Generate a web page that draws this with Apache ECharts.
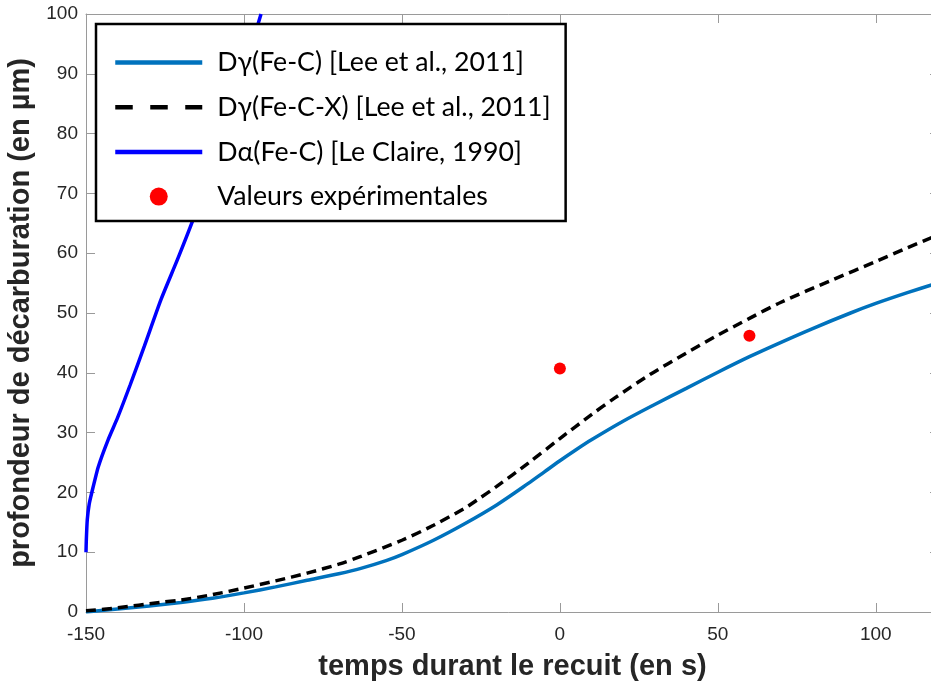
<!DOCTYPE html>
<html>
<head>
<meta charset="utf-8">
<style>
  html, body { margin: 0; padding: 0; background: #ffffff; }
  #chart { width: 931px; height: 687px; }
</style>
<script src="https://cdn.jsdelivr.net/npm/echarts@6/dist/echarts.min.js"></script>
</head>
<body>
<div id="chart"></div>
<script>
// Annealing time (s) and decarburisation depth (µm)
const gammaFeCTimes = [-150, -140, -130, -120, -110, -100, -90, -80, -70, -63, -55, -50, -40, -30, -20, -10, -5, 0, 5, 10, 20, 30, 40, 50, 60, 70, 80, 92, 100, 110, 120];
const gammaFeCDepth = [0, 0.5, 1.0, 1.6, 2.3, 3.2, 4.2, 5.3, 6.4, 7.3, 8.6, 9.6, 12.0, 14.8, 17.9, 21.5, 23.4, 25.3, 27.1, 28.8, 31.9, 34.7, 37.4, 40.1, 42.7, 45.1, 47.4, 50.0, 51.6, 53.4, 55.1];

const gammaFeCXTimes = [-150, -140, -126.6, -120, -110, -100, -90, -80, -70, -63, -50, -40, -30, -26.3, -20, -10, 0, 10, 17.4, 28.5, 40, 50, 60, 70, 86.5, 100, 110, 120];
const gammaFeCXDepth = [0.2, 0.7, 1.6, 2.0, 2.9, 4.0, 5.2, 6.5, 8.0, 9.3, 12.0, 14.5, 17.4, 18.7, 21.0, 24.9, 29.0, 33.0, 35.8, 39.7, 43.3, 46.3, 49.1, 51.8, 55.6, 58.6, 60.9, 63.1];

const alphaFeCTimes = [-150, -149.9, -149.6, -149, -148.2, -146.1, -143, -140, -136, -131.5, -126.3, -121, -116.1, -110, -105, -100, -94.6];
const alphaFeCDepth = [10, 12, 15.4, 18, 19.9, 24.3, 28.8, 32.5, 38, 44.5, 52.2, 59, 65.6, 74.5, 82, 90.5, 100];

const experimentTimes = [0, 60];
const experimentDepth = [40.7, 46.2];

const xTicks = [-150, -100, -50, 0, 50, 100];

const seriesNames = [
  'Dγ(Fe-C) [Lee et al., 2011]',
  'Dγ(Fe-C-X) [Lee et al., 2011]',
  'Dα(Fe-C) [Le Claire, 1990]',
  'Valeurs expérimentales'
];

const pairs = (xs, ys) => xs.map((x, i) => [x, ys[i]]);

const axisColor = '#9a9a9a';
const labelColor = '#262626';
const tickFont = 'Liberation Sans, Arial, sans-serif';

const chart = echarts.init(document.getElementById('chart'), null, { renderer: 'canvas' });

// Box axes (top and right) carrying only the line and inward ticks
const boxAxis = (pos) => ({
  position: pos,
  axisLine: { show: true, onZero: false, lineStyle: { color: axisColor, width: 1 } },
  axisTick: { show: true, inside: true, length: 9, lineStyle: { color: axisColor } },
  axisLabel: { show: false },
  splitLine: { show: false }
});

// Legend line samples without the centre marker
const noMarker = { color: 'rgba(0,0,0,0)', borderWidth: 0 };

chart.setOption({
  animation: false,
  backgroundColor: '#ffffff',
  grid: { left: 86, top: 14, right: -8, bottom: 75, outerBoundsMode: 'none', containLabel: false },
  xAxis: [
    {
      type: 'value', min: -150, max: 120, interval: 50, position: 'bottom',
      name: 'temps durant le recuit (en s)', nameLocation: 'middle', nameGap: 40,
      nameTextStyle: { fontFamily: tickFont, fontWeight: 'bold', fontSize: 29, color: labelColor },
      axisLine: { show: true, onZero: false, lineStyle: { color: axisColor, width: 1 } },
      axisTick: { show: true, inside: true, length: 9, lineStyle: { color: axisColor } },
      axisLabel: {
        margin: 13, fontFamily: tickFont, fontSize: 19, color: labelColor,
        formatter: v => (xTicks.indexOf(v) >= 0 ? String(v) : '')
      },
      splitLine: { show: false }
    },
    Object.assign({ type: 'value', min: -150, max: 120, interval: 50 }, boxAxis('top'))
  ],
  yAxis: [
    {
      type: 'value', min: 0, max: 100, interval: 10, position: 'left',
      name: 'profondeur de décarburation (en µm)', nameLocation: 'middle', nameGap: 44,
      nameTextStyle: { fontFamily: tickFont, fontWeight: 'bold', fontSize: 29, color: labelColor },
      axisLine: { show: true, onZero: false, lineStyle: { color: axisColor, width: 1 } },
      axisTick: { show: true, inside: true, length: 9, lineStyle: { color: axisColor } },
      axisLabel: { margin: 8, fontFamily: tickFont, fontSize: 19, color: labelColor },
      splitLine: { show: false }
    },
    Object.assign({ type: 'value', min: 0, max: 100, interval: 10 }, boxAxis('right'))
  ],
  legend: {
    left: 96, top: 24, orient: 'vertical',
    backgroundColor: '#ffffff', borderColor: '#000000', borderWidth: 2.5,
    padding: [25, 15, 11, 17],
    itemWidth: 87, itemHeight: 18, itemGap: 17.7,
    selectedMode: false,
    lineStyle: { width: 4.5 },
    textStyle: {
      fontFamily: 'Lato, sans-serif', fontSize: 26.7, color: '#000000',
      padding: [0, 0, 0, 10], width: 330
    },
    data: [
      { name: seriesNames[0], itemStyle: noMarker },
      { name: seriesNames[1], itemStyle: noMarker, lineStyle: { type: [17.5, 17.5], width: 4.5 } },
      { name: seriesNames[2], itemStyle: noMarker },
      { name: seriesNames[3], icon: 'circle', itemStyle: { color: '#FF0000', opacity: 1 } }
    ]
  },
  series: [
    {
      name: seriesNames[0], type: 'line', symbol: 'none', smooth: 0.3,
      data: pairs(gammaFeCTimes, gammaFeCDepth),
      lineStyle: { color: '#0072BD', width: 3.5 }, itemStyle: { color: '#0072BD' }, z: 3
    },
    {
      name: seriesNames[1], type: 'line', symbol: 'none', smooth: 0.3,
      data: pairs(gammaFeCXTimes, gammaFeCXDepth),
      lineStyle: { color: '#000000', width: 3.5, type: [10, 6] }, itemStyle: { color: '#000000' }, z: 4
    },
    {
      name: seriesNames[2], type: 'line', symbol: 'none', smooth: 0.2,
      data: pairs(alphaFeCTimes, alphaFeCDepth),
      lineStyle: { color: '#0000FF', width: 3.5 }, itemStyle: { color: '#0000FF' }, z: 3
    },
    {
      name: seriesNames[3], type: 'scatter', symbol: 'circle', symbolSize: 12,
      data: pairs(experimentTimes, experimentDepth),
      itemStyle: { color: '#FF0000', opacity: 1 }, z: 5
    }
  ]
});
</script>
</body>
</html>
